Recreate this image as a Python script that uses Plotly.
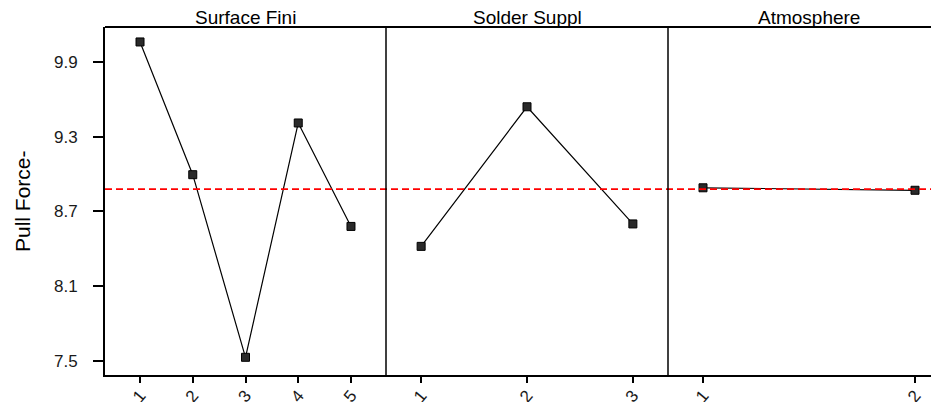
import plotly.graph_objects as go

surface_levels = ["1", "2", "3", "4", "5"]
surface_means = [10.06, 8.995, 7.53, 9.41, 8.58]
solder_levels = ["1", "2", "3"]
solder_means = [8.42, 9.54, 8.60]
atmos_levels = ["1", "2"]
atmos_means = [8.89, 8.87]
panel_titles = ["Surface Fini", "Solder Suppl", "Atmosphere"]
grand_mean = 8.88
y_ticks = [7.5, 8.1, 8.7, 9.3, 9.9]
y_label = "Pull Force-"

# page body has an 8px margin, so the figure is placed at (8, 8)
OFF = 8
W, H = 939 - OFF, 402 - OFF
L = 105 - OFF
T = 27 - OFF
B = H - (375 - OFF)
R = 0
PW = W - L - R
p1 = 281 / PW
p2 = 563 / PW

FONT = "Liberation Sans, Arial, sans-serif"

fig = go.Figure()
series = [(surface_levels, surface_means, "x", "y"),
          (solder_levels, solder_means, "x2", "y"),
          (atmos_levels, atmos_means, "x3", "y")]
for lv, vals, xa, ya in series:
    fig.add_trace(go.Scatter(
        x=[int(v) for v in lv], y=vals, xaxis=xa, yaxis=ya, mode="lines+markers",
        line=dict(color="black", width=1.2),
        marker=dict(symbol="square", size=8, color="#2a2a2a",
                    line=dict(color="black", width=1)),
        showlegend=False, hoverinfo="skip"))

font = dict(family=FONT, size=17, color="#1a1a1a")
xcommon = dict(showgrid=False, zeroline=False, ticks="outside", ticklen=6,
               tickwidth=1.5, tickcolor="black", tickangle=-50, tickfont=font,
               ticklabelstandoff=-4,
               showline=True, linecolor="black", linewidth=2, anchor="y",
               automargin=False)
fig.update_layout(
    width=W, height=H, margin=dict(l=L, r=R, t=T, b=B, autoexpand=False),
    paper_bgcolor="white", plot_bgcolor="white",
    xaxis=dict(domain=[0, p1], range=[0.336, 5.664], tickvals=[1, 2, 3, 4, 5],
               ticktext=surface_levels, **xcommon),
    xaxis2=dict(domain=[p1, p2], range=[0.668, 3.332], tickvals=[1, 2, 3],
                ticktext=solder_levels, **xcommon),
    xaxis3=dict(domain=[p2, 1], range=[1 - 35 / 212, 2 + 24 / 212], tickvals=[1, 2],
                ticktext=atmos_levels, **xcommon),
    yaxis=dict(range=[7.388, 10.18], tickvals=y_ticks,
               ticktext=[f"{v:.1f}" for v in y_ticks],
               showgrid=False, zeroline=False, ticks="outside", ticklen=10,
               tickwidth=1.5, tickcolor="black", tickfont=font, automargin=False,
               ticklabelstandoff=12,
               showline=True, linecolor="black", linewidth=2),
)

# mean reference line
fig.add_shape(type="line", xref="paper", yref="y", x0=0, x1=1,
              y0=grand_mean, y1=grand_mean,
              line=dict(color="#ff0000", width=1.8, dash="7px,4px"))
# panel separators and top border
for xp in [p1, p2]:
    fig.add_shape(type="line", xref="paper", yref="paper", x0=xp, x1=xp, y0=0, y1=1,
                  line=dict(color="black", width=1.5))
fig.add_shape(type="line", xref="paper", yref="paper", x0=0, x1=1, y0=1, y1=1,
              line=dict(color="black", width=2))

# panel titles
centers = [(245.5 - 105) / PW, (527 - 105) / PW, (809 - 105) / PW]
for cx, t in zip(centers, panel_titles):
    fig.add_annotation(text=t, xref="paper", yref="paper", x=cx, y=1, yshift=-3,
                       xanchor="center", yanchor="bottom", showarrow=False,
                       font=dict(family=FONT, size=19, color="black"))

fig.add_annotation(text=y_label, xref="paper", yref="paper", x=(22 - 105) / PW, y=0.5,
                   xanchor="center", yanchor="middle", textangle=-90, showarrow=False,
                   font=dict(family=FONT, size=21, color="black"))

fig.write_html("out.html")
